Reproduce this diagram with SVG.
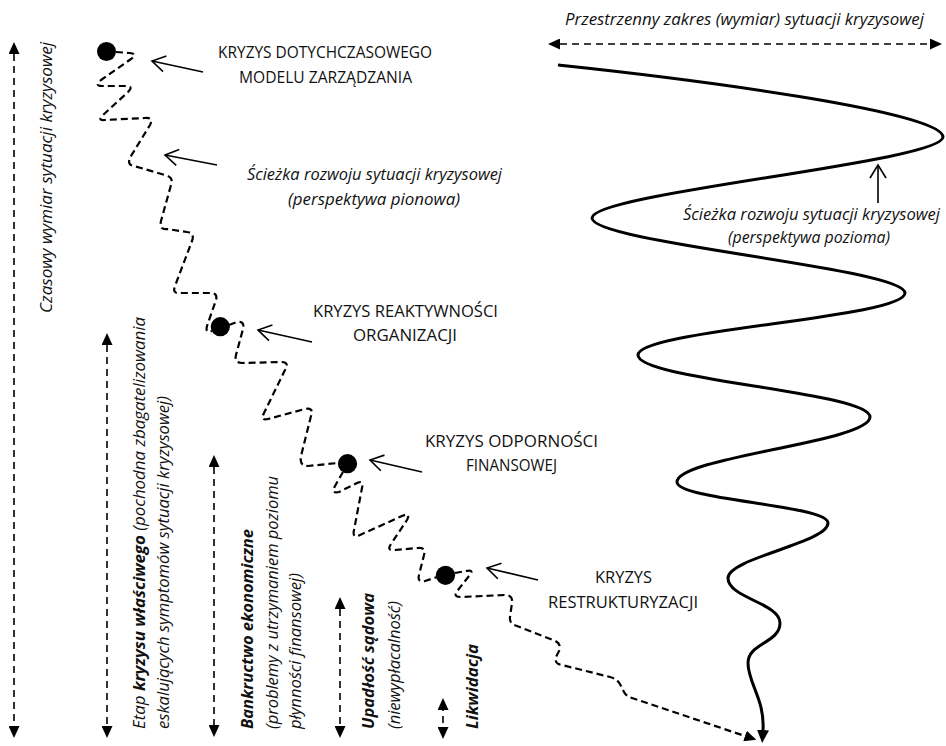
<svg xmlns="http://www.w3.org/2000/svg" width="946" height="746" viewBox="0 0 946 746">
  <style>
    text { font-family: "Open Sans", "Liberation Sans", sans-serif; fill: #111; font-weight: 500; }
    .cap { font-size: 16.5px; text-anchor: middle; }
    .it { font-size: 16px; font-style: italic; }
    .mid { text-anchor: middle; }
    .bi { font-weight: bold; font-style: italic; }
    .wavy { fill: none; stroke: #000; stroke-width: 2.2; stroke-dasharray: 7 4; stroke-linejoin: round; }
    .axis { fill: none; stroke: #000; stroke-width: 1.6; stroke-dasharray: 7 5; }
    .pointer { fill: none; stroke: #000; stroke-width: 1.6; }
    .dot { fill: #000; }
  </style>
  <defs>
    <marker id="tri" viewBox="0 0 12 11" refX="0" refY="5.5" markerWidth="12" markerHeight="11" markerUnits="userSpaceOnUse" orient="auto-start-reverse">
      <path d="M0,0 L12,5.5 L0,11 z" fill="#000"/>
    </marker>
    <marker id="triBig" viewBox="0 0 13 12" refX="0" refY="6" markerWidth="13" markerHeight="12" markerUnits="userSpaceOnUse" orient="auto">
      <path d="M0,0 L13,6 L0,12 z" fill="#000"/>
    </marker>
    <marker id="open" viewBox="-1 -9 16 18" refX="13" refY="0" markerWidth="16" markerHeight="18" markerUnits="userSpaceOnUse" orient="auto" overflow="visible">
      <path d="M0,-8 L13,0 L0,8" fill="none" stroke="#000" stroke-width="1.6"/>
    </marker>
  </defs>

  <!-- axes and scales -->
  <g id="axis-time">
    <line class="axis" x1="14" y1="54" x2="14" y2="726" marker-start="url(#tri)" marker-end="url(#tri)"/>
    <text class="it" transform="translate(51.5,313) rotate(-90)" textLength="271" lengthAdjust="spacingAndGlyphs">Czasowy wymiar sytuacji kryzysowej</text>
  </g>
  <g id="axis-space">
    <line class="axis" x1="560" y1="44" x2="930" y2="44" marker-start="url(#tri)" marker-end="url(#tri)"/>
    <text class="it mid" x="744.5" y="25" textLength="359" lengthAdjust="spacingAndGlyphs">Przestrzenny zakres (wymiar) sytuacji kryzysowej</text>
  </g>
  <g id="stage-kryzys">
    <line class="axis" x1="107" y1="345" x2="107" y2="726" marker-start="url(#tri)" marker-end="url(#tri)"/>
    <text class="it" transform="translate(144.5,729) rotate(-90)" textLength="412" lengthAdjust="spacingAndGlyphs">Etap <tspan class="bi">kryzysu właściwego</tspan> (pochodna zbagatelizowania</text>
    <text class="it" transform="translate(168.5,729) rotate(-90)" textLength="333" lengthAdjust="spacingAndGlyphs">eskalujących symptomów sytuacji kryzysowej)</text>
  </g>
  <g id="stage-bankructwo">
    <line class="axis" x1="214" y1="467" x2="214" y2="725" marker-start="url(#tri)" marker-end="url(#tri)"/>
    <text class="it bi" transform="translate(253,729) rotate(-90)" textLength="200" lengthAdjust="spacingAndGlyphs">Bankructwo ekonomiczne</text>
    <text class="it" transform="translate(278,729) rotate(-90)" textLength="253" lengthAdjust="spacingAndGlyphs">(problemy z utrzymaniem poziomu</text>
    <text class="it" transform="translate(301,729) rotate(-90)" textLength="156" lengthAdjust="spacingAndGlyphs">płynności finansowej)</text>
  </g>
  <g id="stage-upadlosc">
    <line class="axis" x1="340" y1="609" x2="340" y2="726" marker-start="url(#tri)" marker-end="url(#tri)"/>
    <text class="it bi" transform="translate(373.5,729) rotate(-90)" textLength="136" lengthAdjust="spacingAndGlyphs">Upadłość sądowa</text>
    <text class="it" transform="translate(399.5,729) rotate(-90)" textLength="128" lengthAdjust="spacingAndGlyphs">(niewypłacalność)</text>
  </g>
  <g id="stage-likwidacja">
    <line class="axis" x1="443" y1="710" x2="443" y2="727" stroke-dasharray="4 4" stroke-dashoffset="-6" marker-start="url(#tri)" marker-end="url(#tri)"/>
    <text class="it bi" transform="translate(478,729) rotate(-90)" textLength="85" lengthAdjust="spacingAndGlyphs">Likwidacja</text>
  </g>

  <!-- connectors: vertical development path, horizontal development path, pointers -->
  <g id="connectors">
    <path class="wavy" d="M116,52 L130,53 Q138,54 131,59 L101,80 Q94,86 102,86 L126,86 Q134,86 128,92 L103,115 Q97,121 105,120 L145,118 Q154,117 150,125 L131,156 Q126,165 134,166 L165,175 Q174,177 171,185 L161,221 Q159,230 167,229 L187,232 Q195,233 192,241 L175,286 Q172,294 180,293 L210,293 Q218,293 216,300 L207,326 Q205,334 212,331"/>
    <path class="wavy" d="M229,325 L237,322 Q245,321 243,329 L236,355 Q234,363 242,363 L281,362 Q290,362 285,370 L264,413 Q260,421 268,419 L305,409 Q314,407 311,416 L301,456 Q299,466 308,466 L338,463"/>
    <path class="wavy" d="M343,472 L335,486 Q331,494 339,492 L355,484 Q364,479 362,488 L354,530 Q352,539 360,535 L402,516 Q411,512 407,520 L391,544 Q386,551 395,550 L418,548 Q426,547 424,555 L419,575 Q417,583 425,581 L437,577"/>
    <path class="wavy" d="M455,573 L466,571 Q475,569 469,576 L458,590 Q452,597 461,597 L505,595 Q513,595 512,603 L510,617 Q509,624 517,626 L553,640 Q562,643 559,651 L556,657 Q554,664 562,665 L610,677 Q618,679 621,686 L624,692 Q626,696 632,698 L745,736" marker-end="url(#tri)"/>

    <path d="M558,65 C700,80 943,112 943,137 C943,162 592,193 592,218 C592,243 905,268 905,293 C905,318 638,330 638,355 C638,380 870,392 870,417 C870,442 677,457 677,482 C677,500 828,505 828,523 C828,543 728,558 728,578 C728,598 780,603 780,623 C780,643 748,643 748,663 C748,683 765,700 763,730" fill="none" stroke="#000" stroke-width="3" marker-end="url(#triBig)"/>

    <line class="pointer" x1="203" y1="72" x2="152" y2="61" marker-end="url(#open)"/>
    <line class="pointer" x1="217" y1="165" x2="165" y2="155" marker-end="url(#open)"/>
    <line class="pointer" x1="312" y1="342" x2="258" y2="330" marker-end="url(#open)"/>
    <line class="pointer" x1="422" y1="472" x2="370" y2="460" marker-end="url(#open)"/>
    <line class="pointer" x1="538" y1="580" x2="487" y2="568" marker-end="url(#open)"/>
    <line class="pointer" x1="878" y1="203" x2="878" y2="165" marker-end="url(#open)"/>
  </g>

  <!-- crisis stages -->
  <g id="node-model">
    <circle class="dot" cx="106.5" cy="51.5" r="9.5"/>
    <text class="cap" x="325" y="58" textLength="214" lengthAdjust="spacingAndGlyphs">KRYZYS DOTYCHCZASOWEGO</text>
    <text class="cap" x="325.5" y="83" textLength="173" lengthAdjust="spacingAndGlyphs">MODELU ZARZĄDZANIA</text>
  </g>
  <g id="node-path-vertical">
    <text class="it mid" x="374.5" y="180" textLength="255" lengthAdjust="spacingAndGlyphs">Ścieżka rozwoju sytuacji kryzysowej</text>
    <text class="it mid" x="374" y="205" textLength="172" lengthAdjust="spacingAndGlyphs">(perspektywa pionowa)</text>
  </g>
  <g id="node-reaktywnosc">
    <circle class="dot" cx="220.3" cy="326.7" r="9.6"/>
    <text class="cap" x="405.5" y="317" textLength="185" lengthAdjust="spacingAndGlyphs">KRYZYS REAKTYWNOŚCI</text>
    <text class="cap" x="405" y="341" textLength="104" lengthAdjust="spacingAndGlyphs">ORGANIZACJI</text>
  </g>
  <g id="node-odpornosc">
    <circle class="dot" cx="347.5" cy="463.7" r="9.6"/>
    <text class="cap" x="511.5" y="446.5" textLength="173" lengthAdjust="spacingAndGlyphs">KRYZYS ODPORNOŚCI</text>
    <text class="cap" x="511.5" y="470.5" textLength="91" lengthAdjust="spacingAndGlyphs">FINANSOWEJ</text>
  </g>
  <g id="node-restrukturyzacja">
    <circle class="dot" cx="445.5" cy="575.3" r="9.6"/>
    <text class="cap" x="623.5" y="583" textLength="57" lengthAdjust="spacingAndGlyphs">KRYZYS</text>
    <text class="cap" x="623" y="608" textLength="150" lengthAdjust="spacingAndGlyphs">RESTRUKTURYZACJI</text>
  </g>
  <g id="node-path-horizontal">
    <text class="it mid" x="811.5" y="220" textLength="257" lengthAdjust="spacingAndGlyphs">Ścieżka rozwoju sytuacji kryzysowej</text>
    <text class="it mid" x="809" y="243" textLength="162" lengthAdjust="spacingAndGlyphs">(perspektywa pozioma)</text>
  </g>
</svg>
